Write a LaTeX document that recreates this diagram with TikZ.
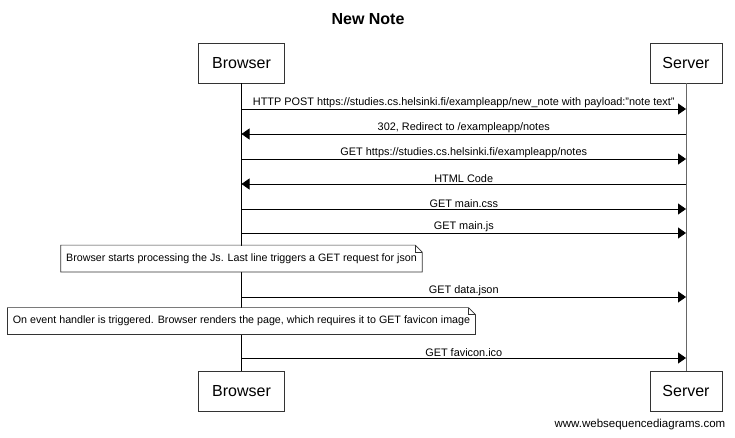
\documentclass[tikz,border=0pt]{standalone}
\usepackage{fontspec}
\setmainfont{Liberation Sans}
\usetikzlibrary{arrows.meta,calc}

\newcommand{\msgfont}{\fontsize{10.9}{13}\selectfont}
\newcommand{\notefont}{\fontsize{10.7}{13}\selectfont}

\begin{document}
\begin{tikzpicture}[x=1pt,y=-1pt,line width=0.8pt,
    actor/.style={draw=black!80,minimum height=40pt,font=\fontsize{16}{19}\selectfont},
    msg/.style={above,inner sep=0.6pt,font=\msgfont},
    note/.style={fill=white,inner xsep=5pt,minimum height=26pt,font=\notefont},
    notebox/.style={draw=black!80,line width=0.7pt}]

      \useasboundingbox (0,0) rectangle (735,438);

      \node[font=\bfseries\fontsize{16}{19}\selectfont] (title) at (368,19) {New Note};

      \begin{scope}[every node/.style={actor}]
        \node[minimum width=86pt] (bt) at (241.5,63)  {Browser};
        \node[minimum width=72pt] (st) at (686,63)    {Server};
        \node[minimum width=86pt] (bb) at (241.5,391) {Browser};
        \node[minimum width=72pt] (sb) at (686,391)   {Server};
      \end{scope}

      % lifelines
      \draw (bt) -- (bb);
      \draw[black!60] (st) -- (sb);

      % message ends
      \coordinate (b1) at (241.5,109); \coordinate (s1) at (686,109);
      \coordinate (b2) at (241.5,134); \coordinate (s2) at (686,134);
      \coordinate (b3) at (241.5,159); \coordinate (s3) at (686,159);
      \coordinate (b4) at (241.5,184); \coordinate (s4) at (686,184);
      \coordinate (b5) at (241.5,209); \coordinate (s5) at (686,209);
      \coordinate (b6) at (241.5,233); \coordinate (s6) at (686,233);
      \coordinate (b7) at (241.5,297); \coordinate (s7) at (686,297);
      \coordinate (b8) at (241.5,358); \coordinate (s8) at (686,358);

      \begin{scope}[every edge/.style={draw,-{Triangle[length=8pt,width=11pt]}}]
        \path (b1) edge node[msg] {HTTP POST https://studies.cs.helsinki.fi/exampleapp/new\_note with payload:"note text"} (s1);
        \path (s2) edge node[msg] {302, Redirect to /exampleapp/notes} (b2);
        \path (b3) edge node[msg] {GET https://studies.cs.helsinki.fi/exampleapp/notes} (s3);
        \path (s4) edge node[msg] {HTML Code} (b4);
        \path (b5) edge node[msg] {GET main.css} (s5);
        \path (b6) edge node[msg] {GET main.js} (s6);
        \path (b7) edge node[msg] {GET data.json} (s7);
        \path (b8) edge node[msg] {GET favicon.ico} (s8);
      \end{scope}

      % notes over the browser
      \node[note] (n1) at (241.5,258.5) {Browser starts processing the Js. Last line triggers a GET request for json};
      \node[note] (n2) at (241.5,321)   {On event handler is triggered. Browser renders the page, which requires it to GET favicon image};

      \foreach \n in {n1,n2} {
        \draw[notebox] (\n.south west) -- (\n.north west) -- ($(\n.north east)+(-7,0)$)
          -- ($(\n.north east)+(0,7)$) -- (\n.south east) -- cycle;
        \draw[notebox] ($(\n.north east)+(-7,0)$) -- ($(\n.north east)+(-7,7)$) -- ($(\n.north east)+(0,7)$);
      }

      \node[anchor=east,font=\fontsize{11.5}{14}\selectfont] (wsd) at (729,425) {www.websequencediagrams.com};

\end{tikzpicture}
\end{document}
